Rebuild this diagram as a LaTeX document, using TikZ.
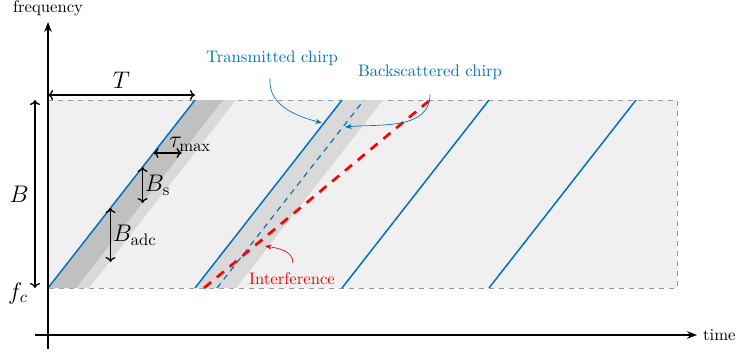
\documentclass[tikz,border=0pt]{standalone}
\usepackage{amsmath}
\usetikzlibrary{arrows.meta, calc}

\definecolor{chirpblue}{RGB}{0,114,189}
\definecolor{fondo}{RGB}{240,240,240}
\definecolor{band light}{RGB}{217,217,217}
\definecolor{band dark}{RGB}{192,192,192}

\begin{document}
\begin{tikzpicture}[
    x=0.6pt, y=0.6pt,
    chirp/.style={chirpblue, line width=0.9pt},
    dimension/.style={<->, >={To[length=3pt, width=6pt]}, line width=0.8pt},
    note arrow/.style={-{Stealth[length=4pt, width=3pt]}, line width=0.4pt},
    big label/.style={font=\Large}
]

\def\T{147} % periodo del chirp
\def\B{188} % ancho de banda
\def\D{28}  % banda de tau max
\def\E{41}  % banda exterior
\def\S{22}  % retardo del eco

\useasboundingbox (-48,-63) rectangle (689,288);

% Zona de frecuencias
\fill[fondo] (0,0) rectangle (629,\B);
\draw[dashed, gray!80, line width=0.4pt] (0,\B) -- (629,\B) -- (629,0) -- (0,0);

% Bandas de recepcion
\fill[band light] (0,0) -- (\T,\B) -- (\T+\E,\B) -- (\E,0) -- cycle;
\fill[band dark] (0,0) -- (\T,\B) -- (\T+\D,\B) -- (\D,0) -- cycle;
\fill[band light] (\T,0) -- (2*\T,\B) -- (2*\T+\E,\B) -- (\T+\E,0) -- cycle;

% Chirps transmitidos
\foreach \k in {0,...,3}
    \draw[chirp] (\k*\T,0) -- (\k*\T+\T,\B);

% Chirp reflejado e interferencia
\draw[chirpblue, line width=0.7pt, dash pattern=on 3.5pt off 3pt] (\T+\S,0) -- (2*\T+\S,\B);
\draw[red, line width=1.6pt, dash pattern=on 5.5pt off 4.5pt] (156,0) -- (382,\B);

% Ejes coordenados
\draw[line width=0.7pt, -{Stealth[length=6pt, width=4.5pt]}] (0,-61) -- (0,266) node[above] {frequency};
\draw[line width=0.7pt, -{Stealth[length=6pt, width=4.5pt]}] (-13,-47) -- (649,-47) node[right] {time};

% Cotas
\draw[dimension] (0,193) -- node[above, big label] {$T$} (\T,193);
\draw[dimension] (-13,0) -- node[left, big label] {$B$} (-13,\B);
\node[big label] (fc) at (-30,-5) {$f_c$};

\coordinate (tau start) at ($(0,0)!135/\B!(\T,\B)$);
\draw[dimension] (tau start) -- node[above right, inner sep=0.5pt, big label] {$\tau_{\mathrm{max}}$} ++(\D,0);

\coordinate (bs top) at ($(0,0)!121/\B!(\T,\B)$);
\draw[dimension] (bs top) -- node[right, inner sep=1pt, big label] {$B_{\mathrm{s}}$} ++(0,-36);

\coordinate (adc top) at ($(0,0)!80/\B!(\T,\B)$);
\draw[dimension] (adc top) -- node[right, inner sep=1pt, big label] {$B_{\mathrm{adc}}$} ++(0,-54);

% Etiquetas
\node[chirpblue] (tx label) at (224,230) {Transmitted chirp};
\node[chirpblue] (bs label) at (382,216) {Backscattered chirp};
\node[red] (if label) at (244,9) {Interference};

\coordinate (tx tip) at (274,165);
\coordinate (bs tip) at (297,161);
\coordinate (if tip) at (217,42);

\draw[note arrow, chirpblue] ([shift={(-2,-7)}]tx label.south) to[out=-95, in=165] (tx tip);
\draw[note arrow, chirpblue] ([shift={(0,-9)}]bs label.south) to[out=-90, in=5] (bs tip);
\draw[note arrow, red] ([shift={(1,4)}]if label.north) to[out=90, in=-10] (if tip);

\end{tikzpicture}
\end{document}
